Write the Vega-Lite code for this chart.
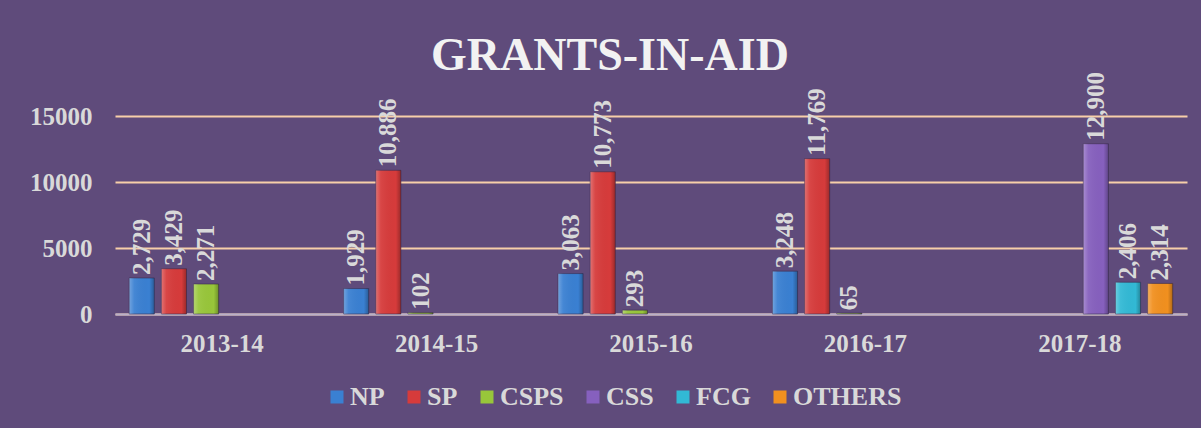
{
  "$schema": "https://vega.github.io/schema/vega-lite/v6.json",
  "width": 1072,
  "height": 198,
  "autosize": {"type": "none"},
  "padding": {"left": 115, "top": 116, "right": 14, "bottom": 114},
  "background": "#5f4b7b",
  "title": {
    "text": "GRANTS-IN-AID",
    "font": "Liberation Serif",
    "fontSize": 46,
    "fontWeight": "bold",
    "color": "#f2f2f2",
    "anchor": "middle",
    "frame": "group",
    "dx": -41,
    "baseline": "alphabetic",
    "offset": -44
  },
  "data": {
    "values": [
      {"year": "2013-14", "series": "NP", "value": 2729},
      {"year": "2013-14", "series": "SP", "value": 3429},
      {"year": "2013-14", "series": "CSPS", "value": 2271},
      {"year": "2014-15", "series": "NP", "value": 1929},
      {"year": "2014-15", "series": "SP", "value": 10886},
      {"year": "2014-15", "series": "CSPS", "value": 102},
      {"year": "2015-16", "series": "NP", "value": 3063},
      {"year": "2015-16", "series": "SP", "value": 10773},
      {"year": "2015-16", "series": "CSPS", "value": 293},
      {"year": "2016-17", "series": "NP", "value": 3248},
      {"year": "2016-17", "series": "SP", "value": 11769},
      {"year": "2016-17", "series": "CSPS", "value": 65},
      {"year": "2017-18", "series": "CSS", "value": 12900},
      {"year": "2017-18", "series": "FCG", "value": 2406},
      {"year": "2017-18", "series": "OTHERS", "value": 2314}
    ]
  },
  "encoding": {
    "x": {
      "field": "year",
      "type": "nominal",
      "scale": {"paddingInner": 0.1, "paddingOuter": 0.05},
      "axis": {
        "title": null,
        "labelAngle": 0,
        "labelFont": "Liberation Serif",
        "labelFontSize": 25,
        "labelFontWeight": "bold",
        "labelColor": "#d9d9d9",
        "labelPadding": 17,
        "ticks": false,
        "domainColor": "#b9b0c9",
        "domainWidth": 2
      }
    },
    "xOffset": {
      "field": "series",
      "type": "nominal",
      "scale": {"domain": ["NP", "SP", "CSPS", "CSS", "FCG", "OTHERS"], "paddingInner": 0.22, "paddingOuter": 0.11}
    },
    "y": {
      "field": "value",
      "type": "quantitative",
      "scale": {"domain": [0, 15000], "nice": false},
      "axis": {
        "title": null,
        "values": [0, 5000, 10000, 15000],
        "format": "d",
        "labelFont": "Liberation Serif",
        "labelFontSize": 25,
        "labelFontWeight": "bold",
        "labelColor": "#d9d9d9",
        "labelPadding": 23,
        "ticks": false,
        "domain": false,
        "gridColor": "#f7cfa9",
        "gridWidth": 2
      }
    }
  },
  "layer": [
    {
      "mark": {"type": "bar", "stroke": "#3a2b4e", "strokeWidth": 1, "strokeOpacity": 0.6},
      "encoding": {
        "color": {
          "field": "series",
          "type": "nominal",
          "scale": {
            "domain": ["NP", "SP", "CSPS", "CSS", "FCG", "OTHERS"],
            "range": ["#3a80d2", "#d63b3b", "#98c63a", "#8660be", "#32b9d5", "#f1901f"]
          },
          "legend": {
            "title": null,
            "orient": "none",
            "legendX": 209,
            "legendY": 268,
            "direction": "horizontal",
            "symbolType": "square",
            "symbolSize": 169,
            "symbolStrokeWidth": 0,
            "labelFont": "Liberation Serif",
            "labelFontSize": 26,
            "labelFontWeight": "bold",
            "labelColor": "#d9d9d9",
            "labelOffset": 0,
            "columnPadding": 16,
            "padding": 0
          }
        }
      }
    },
    {
      "mark": {
        "type": "bar",
        "fill": {
          "x1": 0, "y1": 0, "x2": 1, "y2": 0,
          "gradient": "linear",
          "stops": [
            {"offset": 0, "color": "rgba(255,255,255,0.28)"},
            {"offset": 0.2, "color": "rgba(255,255,255,0.06)"},
            {"offset": 0.8, "color": "rgba(0,0,0,0.0)"},
            {"offset": 1, "color": "rgba(0,0,0,0.28)"}
          ]
        }
      }
    },
    {
      "mark": {
        "type": "text",
        "angle": -90,
        "align": "left",
        "baseline": "middle",
        "dx": 3,
        "font": "Liberation Serif",
        "fontSize": 25,
        "fontWeight": "bold",
        "color": "#d9d9d9"
      },
      "encoding": {
        "text": {"field": "value", "type": "quantitative", "format": ","}
      }
    }
  ],
  "config": {
    "view": {"stroke": null}
  }
}
